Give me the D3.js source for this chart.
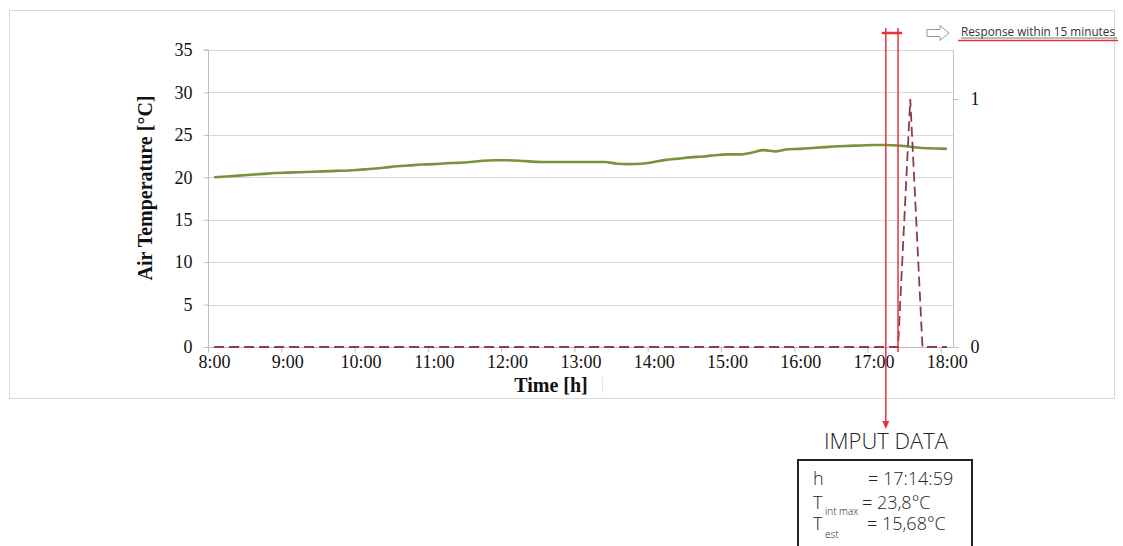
<!DOCTYPE html>
<html><head><meta charset="utf-8">
<script src="https://cdn.jsdelivr.net/npm/d3@7"></script>
<style>
html,body{margin:0;padding:0;background:#fff;}
svg{display:block;}
</style></head>
<body>
<svg id="c" width="1123" height="546"></svg>
<script>
// ---- data ----
const tempTimes = ["8:05","8:15","8:25","8:35","8:45","8:55","9:05","9:15","9:25","9:35","9:45","9:55",
"10:05","10:15","10:25","10:35","10:45","10:55","11:05","11:15","11:25","11:35","11:45","11:55",
"12:05","12:15","12:25","12:35","12:45","12:55","13:05","13:15","13:25","13:35","13:45","13:55",
"14:05","14:15","14:25","14:35","14:45","14:55","15:05","15:15","15:25","15:35","15:45","15:55",
"16:05","16:15","16:25","16:35","16:45","16:55","17:05","17:15","17:25","17:35","17:45","17:55","18:05"];
const tempValues = [20.0,20.1,20.2,20.3,20.4,20.5,20.55,20.6,20.65,20.7,20.75,20.8,
20.9,21.0,21.15,21.3,21.4,21.5,21.55,21.65,21.7,21.8,21.95,22.0,
22.0,21.95,21.85,21.8,21.8,21.8,21.8,21.8,21.8,21.6,21.55,21.6,
21.8,22.05,22.2,22.35,22.45,22.6,22.7,22.7,22.9,23.2,23.05,23.3,
23.35,23.45,23.55,23.65,23.7,23.75,23.8,23.8,23.75,23.6,23.45,23.4,23.35];
const alarmTimes = ["8:05","17:25","17:35","17:45","18:05"];
const alarmValues = [0,0,1,0,0];
const xTickLabels = ["8:00","9:00","10:00","11:00","12:00","13:00","14:00","15:00","16:00","17:00","18:00"];
const yTicks = [0,5,10,15,20,25,30,35];
const y2Ticks = [0,1];
const markTimes = ["17:14:59","17:25"];
const inputLines = [["h","","= 17:14:59"],["T","int max","= 23,8°C"],["T","est","= 15,68°C"]];

// ---- helpers ----
function toH(s){const p=s.split(":").map(Number);return p[0]+(p[1]||0)/60+(p[2]||0)/3600;}

const svg = d3.select("#c");
const L=208, R=953, T=50, B=347;
const x = d3.scaleLinear().domain([8, 18+10/60]).range([L,R]);
const y = d3.scaleLinear().domain([0,35]).range([B,T]);
const y2 = d3.scaleLinear().domain([0,(B-T)/(B-99)]).range([B,T]);

// outer frame
svg.append("rect").attr("x",9.5).attr("y",10.5).attr("width",1105).attr("height",388)
  .attr("fill","none").attr("stroke","#d9d9d9").attr("stroke-width",1);

const serif = "'Liberation Serif','Times New Roman',serif";

// gridlines
svg.append("g").selectAll("line").data(yTicks.filter(d=>d>0)).join("line")
  .attr("x1",L).attr("x2",R).attr("y1",d=>Math.round(y(d))+0.5).attr("y2",d=>Math.round(y(d))+0.5)
  .attr("stroke","#d9d9d9").attr("stroke-width",1);

// left axis
const gl = svg.append("g").attr("transform",`translate(${L+0.5},0)`)
  .call(d3.axisLeft(y).tickValues(yTicks).tickSize(5).tickPadding(11).tickFormat(d3.format("d")));
gl.select(".domain").attr("stroke","#bfbfbf").attr("d",`M-5,${T}H0V${B}`);
gl.selectAll(".tick line").attr("stroke","#bfbfbf");
gl.selectAll(".tick text").attr("font-family",serif).attr("font-size",18).attr("fill","#111");

// right axis
const gr = svg.append("g").attr("transform",`translate(${R+0.5},0)`)
  .call(d3.axisRight(y2).tickValues(y2Ticks).tickSize(5).tickPadding(12).tickFormat(d3.format("d")));
gr.select(".domain").attr("stroke","#bfbfbf").attr("d",`M0,${T}V${B}`);
gr.selectAll(".tick line").attr("stroke","#bfbfbf");
gr.selectAll(".tick text").attr("font-family",serif).attr("font-size",18).attr("fill","#111");

// bottom axis
const gb = svg.append("g").attr("transform",`translate(0,${B+0.5})`)
  .call(d3.axisBottom(x).tickValues(xTickLabels.map(toH)).tickSize(5).tickPadding(3)
    .tickFormat((d,i)=>xTickLabels[i]));
gb.select(".domain").attr("stroke","#bfbfbf").attr("d",`M${L},0H${R}`);
gb.selectAll(".tick line").attr("stroke","#bfbfbf");
gb.selectAll(".tick text").attr("font-family",serif).attr("font-size",18).attr("fill","#111").attr("dx",6);

// axis titles
svg.append("text").attr("transform","translate(152,188) rotate(-90)").attr("text-anchor","middle")
  .attr("font-family",serif).attr("font-weight","bold").attr("font-size",20).attr("fill","#111")
  .text("Air Temperature  [°C]");
svg.append("text").attr("x",551).attr("y",392).attr("text-anchor","middle")
  .attr("font-family",serif).attr("font-weight","bold").attr("font-size",20).attr("fill","#111")
  .text("Time  [h]");
svg.append("line").attr("x1",602.5).attr("x2",602.5).attr("y1",377).attr("y2",393).attr("stroke","#e6e6e6");

// series: temperature
const tData = tempTimes.map((t,i)=>({x:toH(t),v:tempValues[i]}));
svg.append("path").datum(tData)
  .attr("d",d3.line().x(d=>x(d.x)).y(d=>y(d.v)).curve(d3.curveMonotoneX))
  .attr("fill","none").attr("stroke","#77933c").attr("stroke-width",2.6).attr("stroke-linejoin","round");

// series: alarm (secondary axis)
const aData = alarmTimes.map((t,i)=>({x:toH(t),v:alarmValues[i]}));
svg.append("path").datum(aData)
  .attr("d",d3.line().x(d=>x(d.x)).y(d=>y2(d.v)))
  .attr("fill","none").attr("stroke","#8e3b4b").attr("stroke-width",1.8).attr("stroke-dasharray","10,5");

// red annotation lines
const red="#e8333b";
const m1 = x(toH(markTimes[0])), m2 = x(toH(markTimes[1]));
svg.append("line").attr("x1",m1).attr("x2",m1).attr("y1",28).attr("y2",424).attr("stroke",red).attr("stroke-width",1.5);
svg.append("line").attr("x1",m2).attr("x2",m2).attr("y1",28).attr("y2",352).attr("stroke",red).attr("stroke-width",1.5);
svg.append("line").attr("x1",m1-4).attr("x2",m2+4).attr("y1",33).attr("y2",33).attr("stroke",red).attr("stroke-width",2.5);
svg.append("path").attr("d",`M${m1-3.5},${421}L${m1},${429}L${m1+3.5},${421}Z`).attr("fill",red);

// hollow arrow
svg.append("path").attr("d","M927,29.5H940V25.5L949,33L940,40.5V36.5H927Z")
  .attr("fill","#fff").attr("stroke","#9a9a9a").attr("stroke-width",1);

const sans = "'Open Sans','DejaVu Sans',sans-serif";
svg.append("text").attr("x",961).attr("y",36).attr("font-family",sans).attr("font-size",12.5)
  .attr("fill","#333").attr("textLength",154).attr("lengthAdjust","spacingAndGlyphs")
  .text("Response within 15 minutes");
svg.append("line").attr("x1",961).attr("x2",1117).attr("y1",38).attr("y2",38).attr("stroke","#555").attr("stroke-width",0.8);
svg.append("line").attr("x1",958).attr("x2",1118).attr("y1",40.5).attr("y2",40.5).attr("stroke",red).attr("stroke-width",1.3);

// input data
svg.append("text").attr("x",886).attr("y",449).attr("text-anchor","middle").attr("font-family",sans)
  .attr("font-weight",300).attr("font-size",22).attr("fill","#222").attr("textLength",124)
  .attr("lengthAdjust","spacingAndGlyphs").text("IMPUT DATA");
svg.append("rect").attr("x",798).attr("y",460).attr("width",174).attr("height",100)
  .attr("fill","#fff").attr("stroke","#222").attr("stroke-width",2);
const rowY=[485,509,530];
const eqX=[868,862,867];
const subY=[0,515,538];
inputLines.forEach((r,i)=>{
  svg.append("text").attr("x",813).attr("y",rowY[i]).attr("font-family",sans).attr("font-weight",300)
    .attr("font-size",18).attr("fill","#222").text(r[0]);
  if(r[1]) svg.append("text").attr("x",825).attr("y",subY[i]).attr("font-family",sans).attr("font-weight",300)
    .attr("font-size",10).attr("fill","#222").text(r[1]);
  svg.append("text").attr("x",eqX[i]).attr("y",rowY[i]).attr("font-family",sans).attr("font-weight",300)
    .attr("font-size",18).attr("fill","#222").text(r[2]);
});
</script>
</body></html>
